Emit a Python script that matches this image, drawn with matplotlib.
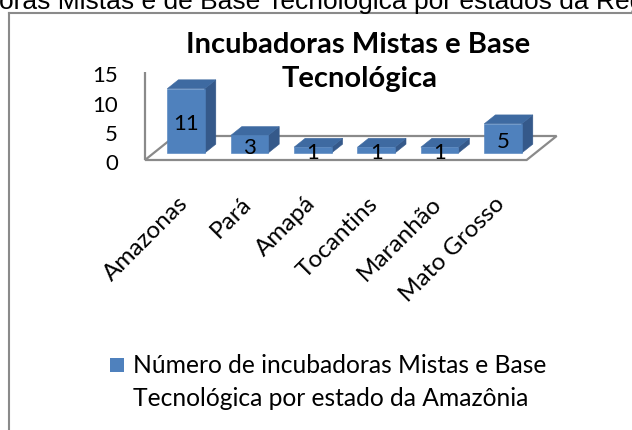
import matplotlib
matplotlib.use("Agg")
import matplotlib.pyplot as plt
from matplotlib.patches import Polygon, Rectangle
from matplotlib.lines import Line2D

# dados do gráfico
estados = ["Amazonas", "Pará", "Amapá", "Tocantins", "Maranhão", "Mato Grosso"]
incubadoras = [11, 3, 1, 1, 1, 5]
y_ticks = [0, 5, 10, 15]
titulo = ["Incubadoras Mistas e Base", "Tecnológica"]
legenda = ["Número de incubadoras Mistas e Base",
           "Tecnológica por estado da Amazônia"]
legenda_fig = "oras Mistas e de Base Tecnológica por estados da Região"

W, H = 632, 431
FONTE = "Lato"
AZUL = "#4F81BD"
TOPO = "#3E6AA1"
LADO = "#35598A"
CINZA = "#8A8A8A"

# escala 3D (pixels por categoria / por unidade)
px_x0, sx = 177.3, 63.4
px_y0, sy = 161.0, 5.85
DX, DY = 30 / sx, 24 / sy        # profundidade total do piso
d_frente, d_fundo = 0.29, 0.66   # profundidade das colunas
meia = 0.295


def p(x, v, d):
    return (x + d * DX, v + d * DY)


fig = plt.figure(figsize=(W / 100, H / 100), dpi=100)
ax = fig.add_axes([0, 0, 1, 1])
ax.set_xlim(-px_x0 / sx, (W - px_x0) / sx)
ax.set_ylim((px_y0 - H) / sy, px_y0 / sy)
ax.axis("off")

# piso e eixo vertical
n = len(estados)
x_lo, x_hi = -0.51, n - 1 + 0.51
piso = [p(x_lo, 0, 0), p(x_hi, 0, 0), p(x_hi, 0, 1), p(x_lo, 0, 1)]
ax.add_patch(Polygon(piso, closed=True, fill=False, edgecolor=CINZA, lw=1.6, zorder=1))
ax.plot([x_lo, x_lo], [0, y_ticks[-1]], color=CINZA, lw=1.6, zorder=1,
        solid_capstyle="butt")

for t in y_ticks:
    ax.text(-0.935, t - 0.55, str(t), ha="right", va="center", fontsize=16,
            family=FONTE, color="black")

# colunas 3D
for i, v in enumerate(incubadoras):
    a, b = i - meia, i + meia
    frente = [p(a, 0, d_frente), p(b, 0, d_frente), p(b, v, d_frente), p(a, v, d_frente)]
    topo = [p(a, v, d_frente), p(b, v, d_frente), p(b, v, d_fundo), p(a, v, d_fundo)]
    lado = [p(b, 0, d_frente), p(b, 0, d_fundo), p(b, v, d_fundo), p(b, v, d_frente)]
    for face, cor in ((lado, LADO), (topo, TOPO), (frente, AZUL)):
        ax.add_patch(Polygon(face, closed=True, facecolor=cor, edgecolor=cor,
                             lw=0.4, zorder=2 + i * 0.01))
    cx, cy = p(i, v / 2, d_frente)
    ax.text(cx, cy - 0.4, str(v), ha="center", va="center", fontsize=16,
            family=FONTE, zorder=5)
    ax.text(i, -5.45, estados[i], rotation=45, rotation_mode="anchor",
            ha="right", va="top", fontsize=17.5, family=FONTE)

# título
fig.text(358 / W, 1 - 53 / H, titulo[0], ha="center", va="baseline",
         fontsize=21, fontweight="bold", family=FONTE)
fig.text(360 / W, 1 - 87 / H, titulo[1], ha="center", va="baseline",
         fontsize=21, fontweight="bold", family=FONTE)

# legenda
fig.patches.append(Rectangle((110 / W, 1 - 373 / H), 14 / W, 14.5 / H,
                             transform=fig.transFigure, facecolor=AZUL,
                             edgecolor="none"))
fig.text(133 / W, 1 - 373 / H, legenda[0], ha="left", va="baseline",
         fontsize=17.7, family=FONTE)
fig.text(133 / W, 1 - 406 / H, legenda[1], ha="left", va="baseline",
         fontsize=17.7, family=FONTE)

# moldura e legenda da figura (cortada no topo, como no original)
fig.lines.append(Line2D([9 / W, 9 / W], [0, 1 - 14 / H], transform=fig.transFigure,
                        color=CINZA, lw=1.5))
fig.lines.append(Line2D([9 / W, 1], [1 - 14 / H, 1 - 14 / H], transform=fig.transFigure,
                        color=CINZA, lw=1.5))
fig.text(-1 / W, 1 - 9 / H, legenda_fig, ha="left", va="baseline",
         fontsize=19, family="Liberation Sans")

fig.savefig("out.png", dpi=100)
